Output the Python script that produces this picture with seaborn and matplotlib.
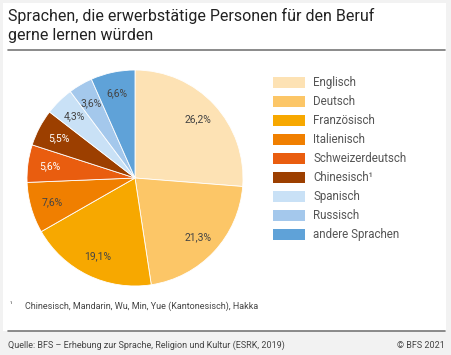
# Sprachen, die erwerbstätige Personen für den Beruf gerne lernen würden
import numpy as np
import matplotlib.pyplot as plt
import seaborn as sns
from matplotlib.patches import Patch, Rectangle
from matplotlib.lines import Line2D

# Daten
sprachen = ["Englisch", "Deutsch", "Französisch", "Italienisch", "Schweizerdeutsch",
            "Chinesisch¹", "Spanisch", "Russisch", "andere Sprachen"]
anteile = [26.2, 21.3, 19.1, 7.6, 5.6, 5.5, 4.3, 3.6, 6.6]
farben = ["#fde2b4", "#fcc667", "#f7a800", "#f07f00", "#e95d0f",
          "#9c3f00", "#c9e1f6", "#a4c8ec", "#5fa2d8"]
text_farben = ["#444444", "#444444", "#444444", "#444444", "#ffffff",
               "#ffffff", "#444444", "#444444", "#444444"]

sns.set_theme(style="white")
plt.rcParams["font.family"] = ["Roboto", "DejaVu Sans"]

W, H = 451, 355
fig = plt.figure(figsize=(W / 100, H / 100), dpi=100)
fig.patch.set_facecolor("#f2f2f2")

# weisse Fläche
fig.patches.append(Rectangle((3 / W, 1 - 331 / H), 443 / W, 328 / H,
                             transform=fig.transFigure, facecolor="white",
                             edgecolor="none", zorder=-1))

# Titel
fig.text(8 / W, 1 - 8 / H, "Sprachen, die erwerbstätige Personen für den Beruf\ngerne lernen würden",
         ha="left", va="top", fontsize=11.5, color="#222222", linespacing=1.3)
fig.add_artist(Line2D([8 / W, 445 / W], [1 - 50 / H, 1 - 50 / H],
                      transform=fig.transFigure, color="#777777", lw=1.2))

# Kuchendiagramm
cx, cy, r = 135, 178, 108
ax = fig.add_axes([(cx - r) / W, 1 - (cy + r) / H, 2 * r / W, 2 * r / H])
keile = ax.pie(anteile, colors=farben, startangle=90, counterclock=False,
               wedgeprops=dict(edgecolor="white", linewidth=0.6))[0]
for keil, wert, tf in zip(keile, anteile, text_farben):
    winkel = np.deg2rad((keil.theta1 + keil.theta2) / 2)
    rr = 0.8
    ax.text(rr * np.cos(winkel), rr * np.sin(winkel), f"{wert:.1f}%".replace(".", ","),
            ha="center", va="center", fontsize=7.5, color=tf)
ax.set_xlim(-1, 1)
ax.set_ylim(-1, 1)
ax.set_aspect("equal")
ax.axis("off")

# Legende
griffe = [Patch(facecolor=f, edgecolor="none") for f in farben]
fig.legend(griffe, sprachen, loc="upper left", bbox_to_anchor=(263 / W, 1 - 66 / H),
           frameon=False, fontsize=8.3, handlelength=2.7, handleheight=1.15,
           labelspacing=0.52, handletextpad=0.75, labelcolor="#555555")

# Fussnote und Quelle
fig.text(10 / W, 1 - 305 / H, "¹", fontsize=5, color="#444444", va="center")
fig.text(25 / W, 1 - 306 / H, "Chinesisch, Mandarin, Wu, Min, Yue (Kantonesisch), Hakka",
         fontsize=6.5, color="#444444", va="center")
fig.add_artist(Line2D([8 / W, 445 / W], [1 - 331 / H, 1 - 331 / H],
                      transform=fig.transFigure, color="#777777", lw=1.2))
fig.text(8 / W, 1 - 345 / H, "Quelle: BFS – Erhebung zur Sprache, Religion und Kultur (ESRK, 2019)",
         fontsize=6.5, color="#444444", va="center")
fig.text(445 / W, 1 - 345 / H, "© BFS 2021", fontsize=6.5, color="#444444",
         va="center", ha="right")

fig.savefig("out.png", dpi=100, facecolor=fig.get_facecolor())
